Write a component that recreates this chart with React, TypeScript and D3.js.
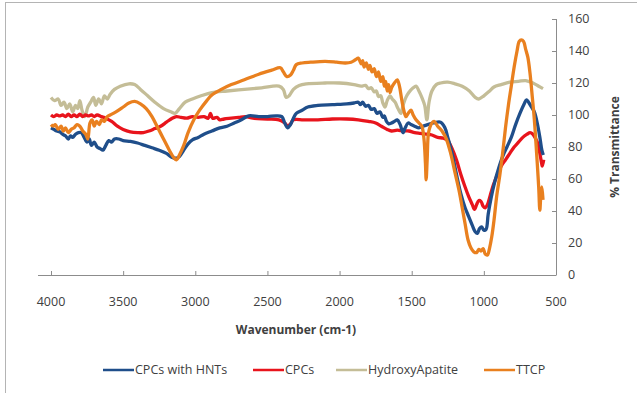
import React from 'react';
import * as d3 from 'd3';

// FTIR spectra, [wavenumber (cm-1), % transmittance]
const cpcsHnts: [number, number][] = [
  [4000, 92], [3980, 91], [3960, 90], [3940, 89.5], [3920, 88], [3900, 87], [3880, 85], [3865, 87],
  [3850, 86], [3830, 88], [3810, 89], [3790, 89], [3770, 86], [3750, 83], [3735, 85], [3720, 81],
  [3700, 83], [3680, 80], [3660, 79], [3640, 78], [3620, 81], [3600, 84], [3580, 83], [3560, 85],
  [3530, 85], [3500, 84], [3450, 83.5], [3400, 82.5], [3350, 81], [3300, 79.5], [3250, 78], [3200, 76],
  [3160, 73.5], [3130, 73], [3110, 74], [3080, 78], [3050, 82], [3020, 84.5], [2980, 86], [2940, 88],
  [2885, 90], [2830, 92], [2780, 93], [2730, 95], [2680, 97], [2630, 99.5], [2560, 99], [2500, 99],
  [2440, 99.5], [2400, 99], [2380, 95], [2360, 92], [2340, 94], [2320, 98], [2300, 101], [2260, 103],
  [2220, 105], [2150, 106], [2050, 106.5], [1950, 107], [1900, 107.5], [1870, 108], [1855, 106.5],
  [1840, 108], [1820, 105.5], [1800, 106], [1780, 103.5], [1760, 104], [1740, 101], [1720, 102],
  [1700, 98.5], [1690, 99.5], [1675, 96], [1660, 94.5], [1640, 95], [1620, 96], [1600, 97], [1580, 94],
  [1560, 89], [1545, 92], [1525, 95], [1505, 94], [1480, 93], [1450, 92], [1420, 93], [1390, 94],
  [1350, 95], [1300, 95.5], [1270, 92], [1250, 86], [1220, 76], [1190, 63], [1160, 51], [1130, 42],
  [1105, 36.5], [1080, 31], [1060, 27], [1045, 26], [1030, 29], [1015, 30], [1000, 28], [985, 28.5],
  [970, 38], [950, 48], [925, 58], [900, 66], [870, 74], [840, 80], [810, 86], [780, 94], [750, 101],
  [720, 107], [705, 109.5], [690, 108], [670, 105], [650, 102], [630, 95], [610, 85], [598, 78], [588, 75],
];

const cpcs: [number, number][] = [
  [4000, 100], [3980, 99], [3960, 100], [3940, 99.5], [3920, 100], [3900, 99], [3880, 100.5], [3860, 99],
  [3840, 100], [3820, 99], [3800, 100.5], [3780, 99], [3760, 100], [3740, 99.5], [3720, 100], [3700, 99],
  [3680, 100], [3650, 99], [3620, 98], [3580, 96], [3540, 93], [3500, 91], [3450, 89.5], [3400, 89],
  [3360, 89], [3320, 90], [3280, 91.5], [3240, 93], [3200, 95.5], [3160, 98], [3130, 99], [3100, 98.5],
  [3060, 98], [3020, 99], [2980, 98.5], [2940, 99], [2910, 98], [2895, 101], [2880, 98], [2850, 98.5],
  [2830, 97], [2800, 97.5], [2750, 98], [2700, 98.5], [2650, 99], [2600, 98], [2500, 97.5], [2420, 97],
  [2380, 95], [2360, 93], [2340, 94.5], [2320, 97], [2250, 97], [2150, 97], [2050, 97.5], [1950, 97.5],
  [1870, 97], [1800, 96], [1750, 95], [1710, 93], [1670, 91], [1640, 90], [1600, 90.5], [1560, 90],
  [1520, 90], [1480, 89], [1440, 88.5], [1400, 88], [1360, 87.5], [1320, 86], [1280, 85.5], [1250, 84],
  [1220, 79], [1190, 72], [1160, 63], [1130, 55], [1105, 49], [1080, 44], [1065, 41], [1050, 44],
  [1035, 46.5], [1020, 46], [1005, 43], [990, 42], [975, 44], [955, 50], [935, 56], [910, 62], [880, 68],
  [850, 72], [820, 76], [790, 80], [760, 83], [730, 86], [700, 88], [680, 89], [660, 88], [640, 85],
  [625, 82], [610, 75], [600, 70], [595, 68], [585, 72],
];

const hydroxyApatite: [number, number][] = [
  [4000, 111], [3975, 109], [3950, 110], [3930, 106], [3910, 108], [3890, 104], [3870, 107], [3850, 102],
  [3830, 106], [3815, 104], [3800, 109], [3785, 103], [3765, 99], [3745, 105], [3725, 108], [3705, 111],
  [3690, 106], [3670, 110], [3650, 107], [3630, 112], [3610, 110], [3590, 113], [3560, 116], [3520, 118],
  [3460, 119.5], [3420, 119], [3380, 116], [3330, 112], [3280, 108], [3220, 104], [3170, 102], [3140, 101],
  [3110, 104], [3070, 108], [3020, 110], [2960, 112], [2885, 114], [2780, 115], [2660, 116], [2540, 117],
  [2420, 118], [2390, 116], [2370, 111], [2350, 112], [2320, 116], [2280, 118.5], [2230, 119.5],
  [2100, 120], [2000, 120], [1900, 119], [1850, 118], [1820, 118.5], [1800, 116.5], [1780, 117],
  [1760, 114.5], [1745, 115], [1730, 111.5], [1715, 112], [1700, 107.5], [1685, 105], [1670, 109],
  [1650, 112], [1635, 110], [1615, 108], [1595, 104], [1575, 101], [1560, 106], [1540, 111], [1520, 114],
  [1490, 117], [1470, 118], [1450, 115], [1430, 111], [1410, 106], [1395, 97], [1380, 108], [1360, 115],
  [1330, 119], [1300, 120], [1250, 120.5], [1200, 119.5], [1150, 118], [1100, 115], [1060, 111],
  [1035, 110], [1000, 112], [960, 115], [930, 117.5], [880, 119], [820, 120.5], [760, 121], [710, 121.5],
  [660, 120], [620, 118], [590, 116.5],
];

const ttcp: [number, number][] = [
  [4000, 94], [3985, 93], [3970, 94], [3950, 91], [3930, 93], [3915, 90], [3900, 92], [3880, 89],
  [3860, 91], [3840, 92], [3820, 94], [3800, 93], [3780, 90], [3760, 88], [3745, 85], [3730, 95],
  [3715, 97], [3700, 93], [3685, 96], [3665, 94], [3650, 97], [3630, 96], [3610, 99], [3590, 100],
  [3550, 102], [3500, 105], [3460, 107.5], [3420, 108.5], [3380, 107], [3340, 104], [3300, 99],
  [3260, 92], [3220, 85], [3180, 78], [3150, 73.5], [3130, 72], [3110, 75], [3080, 81], [3050, 89],
  [3010, 97], [2970, 103], [2920, 109], [2885, 112.5], [2820, 116], [2750, 119], [2660, 122],
  [2560, 125.5], [2470, 128], [2410, 129.5], [2390, 127], [2365, 124], [2340, 125], [2320, 128],
  [2300, 131.5], [2260, 132.5], [2200, 133], [2100, 133.5], [2020, 133], [1960, 132.5], [1920, 133],
  [1890, 134.5], [1870, 135.5], [1850, 132], [1840, 134], [1830, 130], [1815, 132.5], [1800, 128.5],
  [1790, 131], [1775, 127], [1760, 129], [1745, 124], [1730, 127], [1715, 121], [1700, 124], [1690, 118],
  [1680, 121], [1670, 115], [1660, 119], [1650, 114], [1640, 117], [1620, 120], [1600, 122], [1585, 118],
  [1570, 110], [1555, 103], [1540, 99], [1525, 101], [1505, 103], [1490, 100], [1470, 97], [1450, 95],
  [1430, 93], [1415, 85], [1405, 70], [1400, 59.5], [1393, 72], [1385, 88], [1375, 92], [1360, 95],
  [1345, 96], [1320, 93], [1290, 90], [1260, 85], [1230, 76], [1200, 64], [1170, 52], [1150, 42],
  [1130, 32], [1110, 22], [1090, 17], [1070, 14.5], [1050, 14], [1035, 16], [1020, 15], [1005, 16.5],
  [990, 13], [975, 12.5], [960, 17], [945, 24], [930, 34], [910, 50], [890, 62], [870, 76], [850, 92],
  [830, 106], [810, 118], [790, 130], [770, 140], [755, 146], [740, 147], [725, 146], [710, 141],
  [695, 136], [680, 126], [665, 112], [650, 97], [640, 84], [630, 70], [620, 55], [612, 40.5], [605, 50],
  [598, 55], [590, 47],
];

const xTicks = [4000, 3500, 3000, 2500, 2000, 1500, 1000, 500];
const yTicks = [0, 20, 40, 60, 80, 100, 120, 140, 160];

// drawing order: beige under, orange on top
const series = [
  { name: 'HydroxyApatite', data: hydroxyApatite, color: '#c4bd97' },
  { name: 'CPCs', data: cpcs, color: '#e8141c' },
  { name: 'CPCs with HNTs', data: cpcsHnts, color: '#1f4e8a' },
  { name: 'TTCP', data: ttcp, color: '#e9801f' },
];
const legendOrder = ['CPCs with HNTs', 'CPCs', 'HydroxyApatite', 'TTCP'];

const font = '"Open Sans", sans-serif';
const textColor = '#404040';
const axisColor = '#8c8c8c';

export default function App() {
  const x = d3.scaleLinear().domain([4000, 500]).range([51, 556]);
  const y = d3.scaleLinear().domain([0, 160]).range([275, 19]);

  const line = d3.line<[number, number]>()
    .x(d => x(d[0]))
    .y(d => y(d[1]))
    .curve(d3.curveCatmullRom.alpha(0.5));

  const legendX = [103, 253, 336, 484];

  return (
    <div style={{ position: 'fixed', left: 0, top: 0 }}>
      <svg width={637} height={393} style={{ display: 'block', background: '#fff' }}>
        <rect x={5.5} y={2.5} width={700} height={500} fill="none" stroke="#b4b4b4" />

        {/* x axis */}
        <line x1={38} x2={x(500)} y1={y(0) + 0.5} y2={y(0) + 0.5} stroke={axisColor} />
        {xTicks.map(t => (
          <g key={t}>
            <line x1={x(t) + 0.5} x2={x(t) + 0.5} y1={y(0)} y2={y(0) - 4} stroke={axisColor} />
            <text x={x(t)} y={306} textAnchor="middle" fontFamily={font} fontSize={12.5} fill={textColor}>
              {t}
            </text>
          </g>
        ))}
        <text x={296} y={334} textAnchor="middle" fontFamily={font} fontSize={12} fontWeight="bold" fill={textColor}>
          Wavenumber (cm-1)
        </text>

        {/* y axis on the right */}
        <line x1={x(500) + 0.5} x2={x(500) + 0.5} y1={y(160)} y2={y(0) + 0.5} stroke={axisColor} />
        {yTicks.map(t => (
          <g key={t}>
            <line x1={x(500) - 4} x2={x(500)} y1={y(t) + 0.5} y2={y(t) + 0.5} stroke={axisColor} />
            <text x={568} y={y(t)} dy="0.35em" fontFamily={font} fontSize={12.5} fill={textColor}>
              {t}
            </text>
          </g>
        ))}
        <text
          transform="translate(619,147) rotate(-90)"
          textAnchor="middle"
          fontFamily={font}
          fontSize={12}
          fontWeight="bold"
          fill={textColor}
        >
          % Transmittance
        </text>

        {/* spectra */}
        {series.map(s => (
          <path key={s.name} d={line(s.data) ?? ''} fill="none" stroke={s.color} strokeWidth={3.3} strokeLinejoin="round" />
        ))}

        {/* legend */}
        {legendOrder.map((name, i) => {
          const s = series.find(d => d.name === name)!;
          return (
            <g key={name} transform={`translate(${legendX[i]},370)`}>
              <line x1={0} x2={31} y1={0} y2={0} stroke={s.color} strokeWidth={2.5} />
              <text x={32} y={0} dy="0.35em" fontFamily={font} fontSize={12.5} fill={textColor}>
                {name}
              </text>
            </g>
          );
        })}
      </svg>
    </div>
  );
}
